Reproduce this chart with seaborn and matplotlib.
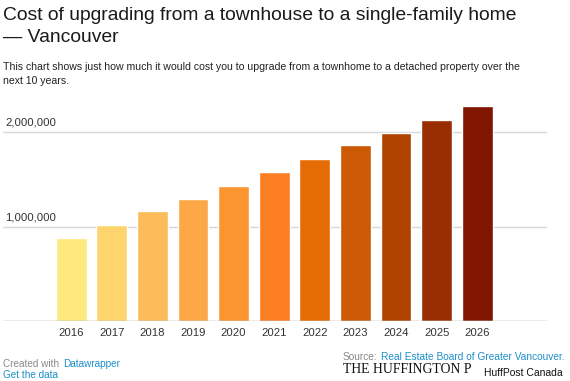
import matplotlib
matplotlib.use('Agg')
import matplotlib.pyplot as plt
import matplotlib.transforms as mtransforms
import seaborn as sns
import pandas as pd

years = ['2016', '2017', '2018', '2019', '2020', '2021', '2022', '2023', '2024', '2025', '2026']
cost = [878000, 1016000, 1164000, 1294000, 1432000, 1577000, 1714000, 1862000, 1989000, 2130000, 2272000]
colors = ['#fde97e', '#fdd46e', '#fdba58', '#fca847', '#fb9530', '#fb7e22',
          '#e56c05', '#cc5a05', '#b04300', '#9a2e03', '#801600']
ytick_vals = [1000000, 2000000]
ytick_labels = ['1,000,000', '2,000,000']

sns.set_style('white')
plt.rcParams['font.family'] = ['Liberation Sans', 'DejaVu Sans']

df = pd.DataFrame({'year': years, 'cost': cost})

fig = plt.figure(figsize=(5.7, 3.81), dpi=100)
ax = fig.add_axes([3 / 570, 60 / 381, 544 / 570, 222 / 381])

sns.barplot(data=df, x='year', y='cost', hue='year', palette=colors,
            legend=False, width=0.756, saturation=1, ax=ax)

ax.set_xlim(-1.68, 11.72)
ax.set_ylim(0, 2350000)
for s in ax.spines.values():
    s.set_visible(False)
ax.set_yticks(ytick_vals)
ax.set_yticklabels([])
ax.tick_params(axis='y', length=0)
ax.yaxis.grid(True, color='#d6d6d6', linewidth=1)
ax.set_axisbelow(True)
ax.axhline(0, color='#9a9a9a', linewidth=1)
ax.tick_params(axis='x', length=0, pad=5, labelsize=8.2, labelcolor='#333333')
ax.set_xlabel('')
ax.set_ylabel('')

trans = mtransforms.blended_transform_factory(ax.transAxes, ax.transData)
for v, lab in zip(ytick_vals, ytick_labels):
    ax.text(0.004, v + 45000, lab, transform=trans, ha='left', va='bottom',
            fontsize=8.2, color='#333333')

fig.text(3 / 570, 1 - 20 / 381, 'Cost of upgrading from a townhouse to a single-family home',
         fontsize=13.9, color='#1a1a1a', ha='left', va='baseline')
fig.text(3 / 570, 1 - 42 / 381, '\u2014 Vancouver',
         fontsize=13.9, color='#1a1a1a', ha='left', va='baseline')
fig.text(3 / 570, 1 - 70 / 381,
         'This chart shows just how much it would cost you to upgrade from a townhome to a detached property over the',
         fontsize=7.55, color='#222222', ha='left', va='baseline')
fig.text(3 / 570, 1 - 84 / 381, 'next 10 years.',
         fontsize=7.55, color='#222222', ha='left', va='baseline')

fig.text(3 / 570, 1 - 367 / 381, 'Created with', fontsize=7.2, color='#888888',
         ha='left', va='baseline')
fig.text(63 / 570, 1 - 367 / 381, 'Datawrapper', fontsize=7.2, color='#1d8fc8',
         ha='left', va='baseline')
fig.text(3 / 570, 1 - 378 / 381, 'Get the data', fontsize=7.2, color='#1d8fc8',
         ha='left', va='baseline')
fig.text(343 / 570, 1 - 360 / 381, 'Source:', fontsize=7.3, color='#888888',
         ha='left', va='baseline')
fig.text(381 / 570, 1 - 360 / 381, 'Real Estate Board of Greater Vancouver.', fontsize=7.3,
         color='#1d8fc8', ha='left', va='baseline')
fig.text(343 / 570, 1 - 373 / 381, 'THE HUFFINGTON P', fontsize=9.9, color='#111111',
         family=['Liberation Serif', 'DejaVu Serif'], ha='left', va='baseline')
fig.text(484 / 570, 1 - 376 / 381, 'HuffPost Canada', fontsize=7.5, color='#111111',
         ha='left', va='baseline')

fig.savefig('out.png', dpi=100)
